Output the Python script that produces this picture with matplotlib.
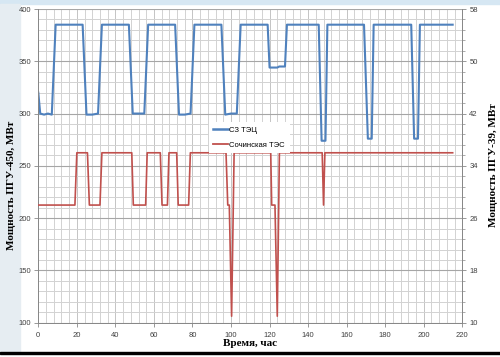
import matplotlib
matplotlib.use("Agg")
import matplotlib.pyplot as plt
from matplotlib.patches import Rectangle
from matplotlib.lines import Line2D
from matplotlib.ticker import MultipleLocator, FixedLocator

# ---- data ----
sz_time = [0, 1, 3, 5, 7, 9,
           23, 25, 28, 31, 33,
           47, 49, 52, 55, 57,
           71, 73, 76, 79, 81,
           95, 97, 100, 103, 105,
           119, 120, 124, 125, 128, 129,
           145.5, 147, 149, 150,
           169, 171, 173, 174,
           193.5, 195, 197, 198,
           215]
sz_power = [320, 300, 299, 300, 299, 385,
            385, 299, 299, 300, 385,
            385, 300, 300, 300, 385,
            385, 299, 299, 300, 385,
            385, 299, 300, 300, 385,
            385, 344, 344, 345, 345, 385,
            385, 274, 274, 385,
            385, 276, 276, 385,
            385, 276, 276, 385,
            385]

soch_time = [0, 19, 20, 25.5, 26.5, 32, 33,
             48.5, 49.3, 55.7, 56.5,
             63.3, 64.2, 67, 67.8,
             71.8, 72.6, 78, 78.9,
             97.4, 98.3, 99.1, 100.3, 101.6,
             120.6, 121.1, 122.8, 124, 125.1,
             147.3, 148, 148.7,
             215]
soch_power = [28, 28, 36, 36, 28, 28, 36,
              36, 28, 28, 36,
              36, 28, 28, 36,
              36, 28, 28, 36,
              36, 28, 28, 11, 36,
              36, 28, 28, 11, 36,
              36, 28, 36,
              36]

series_names = ["СЗ ТЭЦ", "Сочинская ТЭС"]
x_label = "Время, час"
y_left_label = "Мощность ПГУ-450, МВт"
y_right_label = "Мощность ПГУ-39, МВт"
right_ticks = [10, 18, 26, 34, 42, 50, 58]

blue = "#4F81BD"
red = "#C0504D"

fig = plt.figure(figsize=(5.0, 3.57), dpi=100)
fig.patch.set_facecolor("white")

# background decorations (slide frame)
W, H = 500.0, 357.0
fig.patches.append(Rectangle((0, 1 - 4 / H), 1, 4 / H, transform=fig.transFigure,
                             color="#d6e7f3", zorder=-5))
fig.patches.append(Rectangle((0, 5 / H), 20 / W, 1 - 9 / H, transform=fig.transFigure,
                             color="#e6edf2", zorder=-5))
fig.patches.append(Rectangle((0, 1 - 354 / H), 1, 2.2 / H, transform=fig.transFigure,
                             color="black", zorder=-4))

ax = fig.add_axes([38.3 / W, 1 - 322.7 / H, (462.3 - 38.3) / W, (322.7 - 9) / H])
ax.set_facecolor("white")
ax.set_zorder(1)
ax2 = ax.twinx()
ax2.set_zorder(2)

ax.plot(sz_time, sz_power, color=blue, lw=1.5, zorder=3)
ax2.plot(soch_time, soch_power, color=red, lw=1.2, zorder=3)

ax.set_xlim(0, 220)
ax.set_ylim(100, 400)
ax2.set_ylim(10, 58)

ax.xaxis.set_major_locator(MultipleLocator(20))
ax.xaxis.set_minor_locator(MultipleLocator(4))
ax.yaxis.set_major_locator(MultipleLocator(50))
ax.yaxis.set_minor_locator(MultipleLocator(10))
ax2.yaxis.set_major_locator(FixedLocator(right_ticks))
ax2.yaxis.set_minor_locator(FixedLocator([10 + 1.6 * i for i in range(31)]))

ax.grid(which="minor", axis="both", color="#d2d2d2", lw=0.7)
ax.grid(which="major", axis="x", color="#c4c4c4", lw=0.7)
ax.grid(which="major", axis="y", color="#a6a6a6", lw=0.8)
ax.set_axisbelow(True)

for a in (ax, ax2):
    a.tick_params(which="major", length=3, width=0.6, color="#888888",
                  labelsize=5.5, labelcolor="#404040", pad=2)
    a.tick_params(which="minor", length=0)
    for lab in a.get_xticklabels() + a.get_yticklabels():
        lab.set_family("Liberation Sans")
ax2.tick_params(which="minor", length=2, width=0.5, color="#888888")
ax.tick_params(axis="x", pad=4)

for a in (ax, ax2):
    a.spines["top"].set_visible(False)
    for s in ("left", "right", "bottom"):
        a.spines[s].set_color("#888888")
        a.spines[s].set_linewidth(0.7)

lab_font = dict(family="Liberation Serif", weight="bold", size=8)
fig.text(250 / W, 1 - 343 / H, x_label, ha="center", va="center", **lab_font)
fig.text(12 / W, 1 - 185 / H, y_left_label, ha="center", va="center", rotation=90, **lab_font)
fig.text(494 / W, 1 - 165 / H, y_right_label, ha="center", va="center", rotation=90, **lab_font)

handles = [Line2D([], [], color=blue, lw=1.8), Line2D([], [], color=red, lw=1.3)]
leg = ax2.legend(handles, series_names, loc="upper left",
                 bbox_to_anchor=(205 / W, 1 - 118 / H), bbox_transform=fig.transFigure,
                 prop=dict(family="Liberation Sans", size=5.5), frameon=True,
                 fancybox=False, edgecolor="none", facecolor="white", framealpha=1,
                 handlelength=1.9, handletextpad=0.2, labelspacing=1.0,
                 borderpad=0.6)
leg.set_zorder(10)

fig.savefig("out.png", dpi=100, facecolor=fig.get_facecolor())
